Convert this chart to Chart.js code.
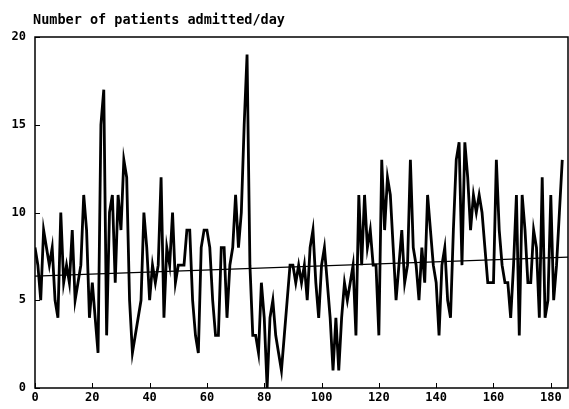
<!DOCTYPE html>
<html>
<head>
<meta charset="utf-8">
<script src="https://cdn.jsdelivr.net/npm/chart.js@4.4.1/dist/chart.umd.min.js"></script>
<style>
    html, body { margin: 0; padding: 0; background: #fff; }
    canvas { display: block; }
</style>
</head>
<body>
<canvas id="admChart" width="569" height="409"></canvas>
<script>
var chartTitle = 'Number of patients admitted/day';

// patients admitted per day, day 0 .. 184
var admissions = [
    8, 7, 5, 9, 8, 7, 8, 5, 4, 10,
    6, 7, 6, 9, 5, 6, 7, 11, 9, 4,
    6, 4, 2, 15, 17, 3, 10, 11, 6, 11,
    9, 13, 12, 5, 2, 3, 4, 5, 10, 8,
    5, 7, 6, 7, 12, 4, 8, 7, 10, 6,
    7, 7, 7, 9, 9, 5, 3, 2, 8, 9,
    9, 8, 5, 3, 3, 8, 8, 4, 7, 8,
    11, 8, 10, 15, 19, 7, 3, 3, 2, 6,
    4, 0, 4, 5, 3, 2, 1, 3, 5, 7,
    7, 6, 7, 6, 7, 5, 8, 9, 6, 4,
    7, 8, 6, 4, 1, 4, 1, 4, 6, 5,
    6, 7, 3, 11, 7, 11, 8, 9, 7, 7,
    3, 13, 9, 12, 11, 8, 5, 7, 9, 6,
    7, 13, 8, 7, 5, 8, 6, 11, 9, 7,
    6, 3, 7, 8, 5, 4, 9, 13, 14, 7,
    14, 12, 9, 11, 10, 11, 10, 8, 6, 6,
    6, 13, 9, 7, 6, 6, 4, 7, 11, 3,
    11, 9, 6, 6, 9, 8, 4, 12, 4, 5,
    11, 5, 7, 10, 13
];

// fitted trend line end points
var trendDays = [0, 186];
var trendValues = [6.38, 7.46];

var xTicks = [0, 20, 40, 60, 80, 100, 120, 140, 160, 180];
var yTicks = [0, 5, 10, 15, 20];

var monoFont = { family: '"DejaVu Sans Mono", "Liberation Mono", monospace', size: 12, weight: 'bold' };

// frame, inward ticks and the title at the top left
var framePlugin = {
    id: 'frame',
    afterDraw: function (chart) {
        const ctx = chart.ctx;
        const area = chart.chartArea;
        const xs = chart.scales.x;
        const ys = chart.scales.y;
        ctx.save();
        ctx.strokeStyle = '#000';
        ctx.lineWidth = 1.5;
        ctx.strokeRect(area.left, area.top, area.right - area.left, area.bottom - area.top);

        ctx.lineWidth = 1;
        ctx.beginPath();
        xTicks.forEach(v => {
            const px = Math.round(xs.getPixelForValue(v)) + 0.5;
            ctx.moveTo(px, area.bottom);
            ctx.lineTo(px, area.bottom - 5);
        });
        yTicks.forEach(v => {
            const py = Math.round(ys.getPixelForValue(v)) + 0.5;
            ctx.moveTo(area.left, py);
            ctx.lineTo(area.left + 5, py);
        });
        ctx.stroke();

        ctx.fillStyle = '#000';
        ctx.font = 'bold 13.5px "DejaVu Sans Mono", "Liberation Mono", monospace';
        ctx.textBaseline = 'middle';
        ctx.textAlign = 'left';
        ctx.fillText(chartTitle, area.left - 2, 20);
        ctx.restore();
    }
};

var ctx = document.getElementById('admChart').getContext('2d');
new Chart(ctx, {
    type: 'line',
    data: {
        datasets: [
            {
                label: 'Admissions',
                data: admissions.map((v, i) => ({ x: i, y: v })),
                borderColor: '#000',
                borderWidth: 2.8,
                pointRadius: 0,
                tension: 0,
                fill: false
            },
            {
                label: 'Trend',
                data: trendDays.map((d, i) => ({ x: d, y: trendValues[i] })),
                borderColor: '#000',
                borderWidth: 1.3,
                pointRadius: 0,
                fill: false
            }
        ]
    },
    options: {
        responsive: false,
        animation: false,
        layout: { padding: { top: 37, right: 1, left: 0, bottom: 0 } },
        plugins: {
            legend: { display: false },
            tooltip: { enabled: false }
        },
        scales: {
            x: {
                type: 'linear',
                min: 0,
                max: 186,
                afterFit: function (scale) { scale.height = 21; },
                grid: { display: false, drawTicks: false },
                border: { display: false },
                ticks: {
                    stepSize: 20,
                    includeBounds: false,
                    maxRotation: 0,
                    autoSkip: false,
                    color: '#000',
                    font: monoFont,
                    padding: 3
                }
            },
            y: {
                min: 0,
                max: 20,
                afterFit: function (scale) { scale.width = 35; },
                grid: { display: false, drawTicks: false },
                border: { display: false },
                ticks: {
                    stepSize: 5,
                    color: '#000',
                    font: monoFont,
                    padding: 9
                }
            }
        }
    },
    plugins: [framePlugin]
});
</script>
</body>
</html>
